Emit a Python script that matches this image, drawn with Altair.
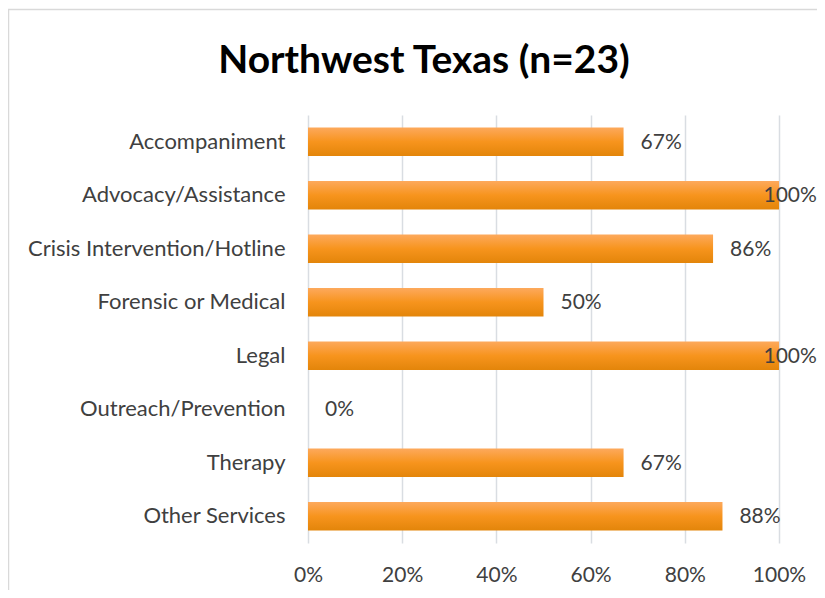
import altair as alt
import pandas as pd

categories = ["Accompaniment", "Advocacy/Assistance", "Crisis Intervention/Hotline",
              "Forensic or Medical", "Legal", "Outreach/Prevention", "Therapy", "Other Services"]
values = [0.67, 1.00, 0.86, 0.50, 1.00, 0.00, 0.67, 0.88]
x_ticks = [0, 0.2, 0.4, 0.6, 0.8, 1.0]
title_text = ["Northwest Texas (n=23)"]

df = pd.DataFrame({"cat": categories, "val": values})
tdf = pd.DataFrame({"t": title_text})

FONT = "Lato"
TXT = "#404040"

W, H = 471, 428
PL, PT, PR, PB = 300, 107, 38, 47

grad = alt.Gradient(
    gradient="linear",
    stops=[alt.GradientStop(color="#FDA95C", offset=0),
           alt.GradientStop(color="#F7941D", offset=0.5),
           alt.GradientStop(color="#E3850A", offset=1)],
    x1=0, x2=0, y1=0, y2=1,
)

xscale = alt.Scale(domain=[0, 1], nice=False)
yenc = alt.Y("cat:N", sort=categories, title=None,
             scale=alt.Scale(paddingInner=0.47, paddingOuter=0.235),
             axis=alt.Axis(labelFont=FONT, labelFontSize=22, labelColor=TXT,
                           labelPadding=23, ticks=False, domain=False, grid=False,
                           labelLimit=300))

bars = alt.Chart(df).mark_bar(color=grad).encode(
    x=alt.X("val:Q", scale=xscale, title=None,
            axis=alt.Axis(values=x_ticks, format=".0%", labelFont=FONT, labelFontSize=21,
                          labelColor=TXT, labelPadding=21, ticks=False, domain=False,
                          labelFlush=False, labelOverlap=False,
                          grid=True, gridColor="#d9dde2", gridWidth=1.5)),
    y=yenc,
)

labels = alt.Chart(df).transform_calculate(
    lx="min(datum.val + 0.036, 0.967)",
    lab="format(datum.val, '.0%')",
).mark_text(align="left", baseline="middle", font=FONT, fontSize=21, color=TXT, dy=1).encode(
    x=alt.X("lx:Q", scale=xscale),
    y=alt.Y("cat:N", sort=categories),
    text="lab:N",
)

title = alt.Chart(tdf).mark_text(
    align="center", baseline="alphabetic", font=FONT, fontSize=39, fontWeight="bold",
    color="#000000",
).encode(x=alt.value(116), y=alt.value(-42), text="t:N")

frame_top = alt.Chart(tdf).mark_rule(color="#d9d9d9", strokeWidth=1.5).encode(
    x=alt.value(-PL), x2=alt.value(W + PR), y=alt.value(-PT + 1.5))
frame_left = alt.Chart(tdf).mark_rule(color="#d9d9d9", strokeWidth=1.5).encode(
    x=alt.value(-PL + 0.5), y=alt.value(-PT + 1.5), y2=alt.value(H + PB))

chart = alt.layer(frame_top, frame_left, bars, labels, title).properties(
    width=W, height=H,
    autosize=alt.AutoSizeParams(type="none"),
    padding={"left": PL, "top": PT, "right": PR, "bottom": PB},
).configure_view(stroke=None)

chart.save("out.html", embed_options={"renderer": "svg", "actions": False})
